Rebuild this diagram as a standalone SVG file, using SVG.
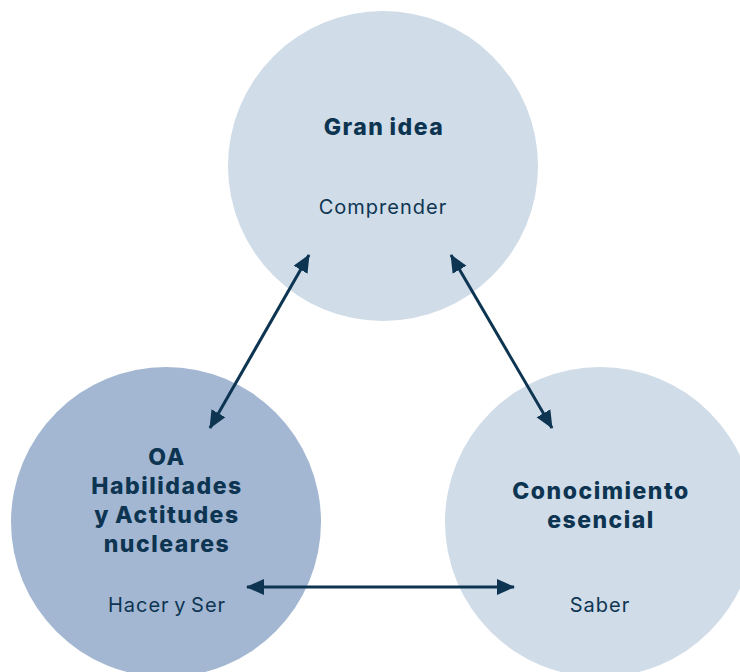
<svg xmlns="http://www.w3.org/2000/svg" width="740" height="672" viewBox="0 0 740 672">
<style>
.t{font-family:Inter,"Noto Sans","Liberation Sans",sans-serif;fill:#0d3552;text-anchor:middle}
.b{font-weight:800;font-size:23px;letter-spacing:1.5px;word-spacing:-1.5px}
.r{font-size:20px;letter-spacing:1px;word-spacing:-2px}
.c{stroke:#0d3552;stroke-width:3;fill:none}
</style>
<defs>
<marker id="ah" markerUnits="userSpaceOnUse" markerWidth="18" markerHeight="18" viewBox="0 0 18 18" refX="17" refY="9" orient="auto-start-reverse">
<path d="M0,1 L18,9 L0,17 Z" fill="#0d3552"/>
</marker>
</defs>
<rect width="740" height="672" fill="#fff"/>
<g id="gran-idea">
<circle cx="383" cy="166" r="155" fill="#d0dce8"/>
<text class="t b" x="384" y="135">Gran idea</text>
<text class="t r" x="383" y="214">Comprender</text>
</g>
<g id="oa">
<circle cx="166" cy="522" r="155" fill="#a3b7d2"/>
<text class="t b" x="167" y="465">OA</text>
<text class="t b" x="167" y="494">Habilidades</text>
<text class="t b" x="167" y="523">y Actitudes</text>
<text class="t b" x="167" y="552">nucleares</text>
<text class="t r" x="167" y="612">Hacer y Ser</text>
</g>
<g id="conocimiento">
<circle cx="600" cy="522" r="155" fill="#d0dce8"/>
<text class="t b" x="601" y="499">Conocimiento</text>
<text class="t b" x="601" y="528">esencial</text>
<text class="t r" x="600" y="612">Saber</text>
</g>
<g id="connectors">
<line class="c" x1="210" y1="428" x2="309" y2="255" marker-start="url(#ah)" marker-end="url(#ah)"/>
<line class="c" x1="451" y1="255" x2="552" y2="428" marker-start="url(#ah)" marker-end="url(#ah)"/>
<line class="c" x1="247" y1="587" x2="514" y2="587" marker-start="url(#ah)" marker-end="url(#ah)"/>
</g>
</svg>
